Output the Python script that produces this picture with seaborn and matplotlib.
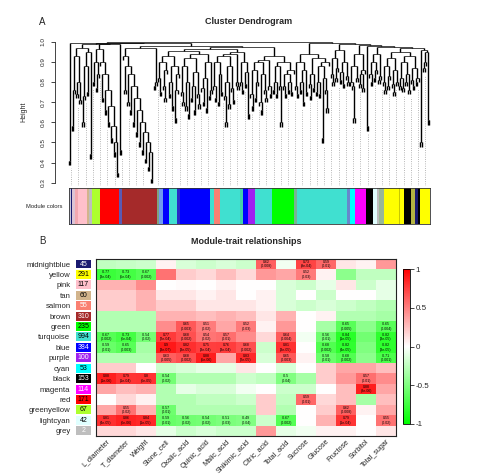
import numpy as np
import pandas as pd
import seaborn as sns
import matplotlib
matplotlib.use("Agg")
import matplotlib.pyplot as plt
from matplotlib.collections import LineCollection
from matplotlib.colors import LinearSegmentedColormap

# ---------------- panel B data ----------------
modules = ["midnightblue", "yellow", "pink", "tan", "salmon", "brown", "green",
           "turquoise", "blue", "purple", "cyan", "black", "magenta", "red",
           "greenyellow", "lightcyan", "grey"]
module_sizes = [45, 291, 117, 60, 55, 310, 235, 994, 384, 100, 53, 153, 114, 171, 67, 42, 2]
traits = ["L_diameter", "T_diameter", "Weight", "Stone_cell", "Oxalic_acid", "Quinic_acid",
          "Malic_acid", "Shikimic_acid", "Citric_acid", "Total_acid", "Sucrose", "Glucose",
          "Fructose", "Sorbitol", "Total_sugar"]

cor = [
    [-0.25, -0.22, -0.2, 0.05, -0.15, -0.2, -0.15, -0.2, 0.62, -0.05, 0.73, 0.59, 0.1, 0.05, 0.4],
    [-0.77, -0.73, -0.67, 0.55, 0.2, 0.15, 0.25, 0.15, 0.4, 0.35, 0.52, 0.05, -0.45, -0.25, -0.25],
    [0.3, 0.3, 0.45, 0.0, 0.02, 0.0, 0.05, 0.0, 0.0, -0.15, -0.2, -0.1, 0.1, -0.2, -0.1],
    [0.2, 0.2, 0.3, 0.1, 0.1, 0.05, 0.1, 0.0, 0.05, -0.15, 0.0, -0.2, 0.0, 0.0, -0.1],
    [0.2, 0.2, 0.3, 0.2, 0.2, 0.1, 0.1, 0.1, 0.05, -0.15, -0.2, -0.15, -0.2, -0.25, -0.3],
    [-0.3, -0.3, -0.3, 0.3, 0.3, 0.25, 0.3, 0.25, 0.1, 0.3, 0.0, 0.05, -0.3, -0.3, -0.35],
    [-0.3, -0.3, -0.3, 0.45, 0.65, 0.51, 0.35, 0.52, 0.05, 0.4, 0.0, -0.35, -0.65, -0.45, -0.65],
    [-0.67, -0.73, -0.54, 0.77, 0.68, 0.54, 0.57, 0.45, 0.15, 0.64, -0.05, -0.56, -0.84, -0.55, -0.82],
    [-0.59, -0.65, -0.35, 0.9, 0.82, 0.75, 0.76, 0.68, -0.2, 0.81, 0.0, -0.68, -0.82, -0.5, -0.82],
    [-0.3, -0.3, -0.3, 0.63, 0.68, 0.88, 0.35, 0.83, -0.15, 0.65, 0.05, -0.58, -0.68, -0.45, -0.71],
    [0.2, 0.2, 0.0, -0.2, -0.15, -0.1, -0.1, 0.1, 0.0, -0.15, 0.0, 0.2, 0.35, 0.35, 0.25],
    [0.88, 0.79, 0.8, -0.54, -0.3, -0.3, -0.3, -0.2, -0.25, -0.5, -0.35, 0.2, 0.4, 0.57, 0.45],
    [0.35, 0.25, 0.3, -0.3, -0.1, -0.15, -0.15, -0.05, 0.0, -0.2, -0.2, 0.0, 0.25, 0.88, 0.35],
    [0.0, 0.15, 0.05, -0.3, -0.3, -0.25, -0.25, -0.2, 0.2, -0.25, 0.59, 0.15, 0.25, -0.35, 0.25],
    [0.35, 0.55, 0.3, -0.57, -0.3, -0.3, -0.3, -0.3, 0.2, -0.3, 0.0, 0.2, 0.62, 0.05, 0.35],
    [0.81, 0.86, 0.84, -0.59, -0.56, -0.54, -0.51, -0.49, -0.2, -0.67, 0.0, 0.3, 0.79, 0.0, 0.55],
    [0.15, 0.15, 0.1, -0.1, -0.2, -0.15, -0.2, -0.2, 0.4, -0.1, -0.05, 0.05, 0.05, 0.0, 0.1],
]

pvals = [
    ["", "", "", "", "", "", "", "", "0.008", "", "9e-04", "0.01", "", "", ""],
    ["3e-04", "5e-04", "0.002", "", "", "", "", "", "", "", "0.03", "", "", "", ""],
    ["", "", "", "", "", "", "", "", "", "", "", "", "", "", ""],
    ["", "", "", "", "", "", "", "", "", "", "", "", "", "", ""],
    ["", "", "", "", "", "", "", "", "", "", "", "", "", "", ""],
    ["", "", "", "", "", "", "", "", "", "", "", "", "", "", ""],
    ["", "", "", "", "0.003", "0.02", "", "0.03", "", "", "", "", "0.005", "", "0.004"],
    ["0.002", "6e-04", "0.02", "2e-04", "0.002", "0.02", "0.01", "", "", "0.004", "", "0.01", "1e-05", "", "3e-05"],
    ["0.01", "0.003", "", "3e-07", "3e-05", "3e-04", "3e-04", "0.002", "", "3e-05", "", "0.002", "4e-05", "", "3e-05"],
    ["", "", "", "0.005", "0.002", "5e-06", "", "2e-05", "", "0.003", "", "0.01", "0.002", "", "0.001"],
    ["", "", "", "", "", "", "", "", "", "", "", "", "", "", ""],
    ["1e-06", "1e-04", "6e-05", "0.02", "", "", "", "", "", "0.04", "", "", "", "0.01", ""],
    ["", "", "", "", "", "", "", "", "", "", "", "", "", "8e-06", ""],
    ["", "", "", "", "", "", "", "", "", "", "0.01", "", "", "", ""],
    ["", "0.02", "", "0.01", "", "", "", "", "", "", "", "", "0.008", "", ""],
    ["4e-05", "6e-06", "1e-05", "0.01", "0.02", "0.02", "0.03", "0.04", "", "0.002", "", "", "1e-04", "", "0.02"],
    ["", "", "", "", "", "", "", "", "", "", "", "", "", "", ""],
]

# ---------------- panel A data ----------------
# merge height between neighbouring leaves, per branch (left to right)
br_edge = [0.41]
br_pink = [0.58, 0.76, 0.93, 0.74, 0.8, 0.71, 0.97, 0.6, 0.73, 0.88, 0.75, 0.95, 0.44]
br_greenyellow = [0.8, 0.9, 0.77, 0.84]
br_red = [0.9, 0.72, 0.84, 0.66, 0.76, 0.6, 0.68, 0.52, 0.58, 0.45, 0.5, 0.35]
br_red_tail = [0.46]
br_brown = [0.93, 0.76, 0.88, 0.7, 0.84, 0.66, 0.78, 0.6, 0.72, 0.55, 0.66, 0.5, 0.6, 0.46,
            0.55, 0.42, 0.5, 0.38, 0.45, 0.32]
br_brown_tail = [0.78, 0.8]
br_blue1 = [0.82, 0.75, 0.9, 0.78, 0.72, 0.86, 0.93, 0.74, 0.8, 0.68, 0.88, 0.62, 0.76, 0.84]
br_blue = [0.75, 0.7, 0.88, 0.68, 0.8, 0.64, 0.92, 0.72, 0.78, 0.66, 0.85, 0.74, 0.69, 0.94,
           0.77, 0.7, 0.82, 0.67, 0.9, 0.73, 0.76]
br_turq1 = [0.78, 0.72, 0.9, 0.7, 0.84, 0.75, 0.93, 0.73, 0.6, 0.8, 0.69, 0.88, 0.77, 0.71,
            0.94, 0.8, 0.78]
br_purple = [0.8, 0.76, 0.9, 0.79, 0.85, 0.64]
br_turq2 = [0.74, 0.68, 0.86, 0.72, 0.8, 0.9, 0.7, 0.66, 0.84, 0.76, 0.72, 0.91, 0.78, 0.74]
br_green1 = [0.76, 0.8, 0.74, 0.88, 0.78, 0.6]
br_green2 = [0.78, 0.74, 0.84, 0.76, 0.8, 0.75, 0.86]
br_turq3 = [0.78, 0.74, 0.9, 0.76, 0.8, 0.7, 0.86, 0.75, 0.94, 0.79, 0.73, 0.84, 0.77, 0.92,
            0.75, 0.8, 0.74, 0.88, 0.52, 0.82, 0.76, 0.67, 0.9]
br_turq4 = [0.84, 0.8, 0.92, 0.82, 0.87, 0.96, 0.81, 0.85, 0.79, 0.9, 0.83, 0.8]
br_magenta = [0.8, 0.78, 0.62, 0.88, 0.82, 0.94, 0.79, 0.84, 0.77, 0.86]
br_black_tail = [0.58]
br_lightcyan = [0.84, 0.8, 0.9, 0.82, 0.86, 0.94, 0.81, 0.83]
br_yellow = [0.8, 0.76, 0.88, 0.78, 0.83, 0.92, 0.79, 0.75, 0.86, 0.8, 0.95, 0.78, 0.82,
             0.77, 0.9, 0.8, 0.84, 0.76, 0.93, 0.81, 0.78, 0.87, 0.8, 0.82]
br_yellow_tail = [0.5]
br_yellow2 = [0.87, 0.9]
br_edge_r = [0.61]
branch_joins = [0.995, 0.99, 0.965, 0.99, 0.993, 0.97, 0.98, 0.955, 0.965, 0.95, 0.975,
                0.93, 0.9, 1.0, 0.995, 0.99, 0.985, 0.98, 0.975, 0.97, 0.96, 0.95]

# module colour strip under the tree
strip_colors = ["#C4C4D8", "#191970", "#DCC4D4", "#F2A8B0", "#FFC0CB", "#D2B48C", "#BEBEBE",
                "#ADFF2F", "#FF0000", "#5A5AB4", "#A52A2A", "#7FA37F", "#6F9BEF", "#0000FF",
                "#40E0D0", "#2A2AC8", "#0000FF", "#40E0D0", "#FA8072", "#40E0D0", "#44D2A8",
                "#0000FF", "#A020F0", "#40E0D0", "#00FF00", "#76B496", "#40E0D0", "#6688CC",
                "#00FFFF", "#FF00FF", "#000000", "#E0FFFF", "#BEBEBE", "#98B898", "#FFFF00",
                "#C8C800", "#FFFF00", "#000000", "#B4B444", "#191970", "#000000", "#FFFF00"]
strip_share = [2, 1, 3, 3, 9, 2, 3, 8, 19, 3, 35, 2, 4, 6, 8, 3, 30, 4, 6, 20, 3, 5, 7, 17,
               22, 3, 50, 3, 5, 11, 7, 4, 2, 5, 15, 1, 4, 7, 4, 3, 2, 9]

R_COL = {"midnightblue": "#191970", "yellow": "#FFFF00", "pink": "#FFC0CB", "tan": "#D2B48C",
         "salmon": "#FA8072", "brown": "#A52A2A", "green": "#00FF00", "turquoise": "#40E0D0",
         "blue": "#0000FF", "purple": "#A020F0", "cyan": "#00FFFF", "black": "#000000",
         "magenta": "#FF00FF", "red": "#FF0000", "greenyellow": "#ADFF2F",
         "lightcyan": "#E0FFFF", "grey": "#BEBEBE"}
light_text = {"midnightblue", "salmon", "brown", "blue", "purple", "black", "magenta", "grey"}

sns.set_style("white")
plt.rcParams["font.family"] = ["Liberation Sans", "DejaVu Sans"]

W, H = 480, 474
fig = plt.figure(figsize=(W / 100, H / 100), dpi=100)


def box(x0, y0, x1, y1):
    return [x0 / W, 1 - y1 / H, (x1 - x0) / W, (y1 - y0) / H]


# ---------------- dendrogram ----------------
branches = [br_edge, br_pink, br_greenyellow, br_red, br_red_tail, br_brown, br_brown_tail,
            br_blue1, br_blue, br_turq1, br_purple, br_turq2, br_green1, br_green2, br_turq3,
            br_turq4, br_magenta, br_black_tail, br_lightcyan, br_yellow, br_yellow_tail,
            br_yellow2, br_edge_r]
gaps = []
for i, part in enumerate(branches):
    gaps += part
    if i < len(branch_joins):
        gaps.append(branch_joins[i])
gaps = np.array(gaps)
n_leaf = len(gaps) + 1
ylo, yhi = 0.283, 1.006
hang = 0.03 * (yhi - ylo)
leaf_top = np.zeros(n_leaf)
vsegs, hsegs = [], []


def grow(lo, hi):
    if lo == hi:
        return float(lo), None
    k = lo + int(np.argmax(gaps[lo:hi]))
    h = gaps[k]
    kids = [grow(lo, k), grow(k + 1, hi)]
    for x, hc in kids:
        if hc is None:
            leaf_top[int(x)] = h
            hc = h - hang
        vsegs.append([(x, hc), (x, h)])
    hsegs.append([(kids[0][0], h), (kids[1][0], h)])
    return (kids[0][0] + kids[1][0]) / 2, h


grow(0, n_leaf - 1)

ax_d = fig.add_axes(box(55, 40.5, 443, 186.1))
unit = 360 / (n_leaf - 1)
ax_d.set_xlim(-14 / unit, n_leaf - 1 + 14 / unit)
ax_d.set_ylim(ylo, yhi)

# guide lines
step = n_leaf / 50
for k in range(1, 51):
    pos = (k - 0.5) * step
    a, b = int(np.floor(pos)) - 1, int(np.ceil(pos)) - 1
    a, b = max(a, 0), max(b, 0)
    top = min(leaf_top[a], leaf_top[b]) - 0.05 * (yhi - ylo)
    ax_d.plot([pos - 1, pos - 1], [ylo, top], color="#777777", lw=0.5,
              linestyle=(0, (1, 2.2)))

ax_d.add_collection(LineCollection(vsegs, colors="black", linewidths=1.0))
ax_d.add_collection(LineCollection(hsegs, colors="black", linewidths=0.5))

for s in ["top", "right", "bottom"]:
    ax_d.spines[s].set_visible(False)
ax_d.spines["left"].set_bounds(0.3, 1.0)
ax_d.spines["left"].set_linewidth(0.6)
ax_d.set_xticks([])
ax_d.set_yticks(np.arange(0.3, 1.01, 0.1))
ax_d.set_yticklabels([f"{v:.1f}" for v in np.arange(0.3, 1.01, 0.1)], rotation=90,
                     va="center", fontsize=4.6)
ax_d.tick_params(axis="y", length=2.6, width=0.6, pad=4, left=True)
ax_d.patch.set_alpha(0)

ax_s = fig.add_axes(box(68.5, 188, 429.5, 224))
edges = np.concatenate([[0], np.cumsum(strip_share)])
ax_s.barh(0, strip_share, left=edges[:-1], height=1, color=strip_colors, linewidth=0)
ax_s.set_xlim(0, edges[-1])
ax_s.set_ylim(-0.5, 0.5)
ax_s.set_xticks([])
ax_s.set_yticks([])
for s in ax_s.spines.values():
    s.set_visible(True)
    s.set_linewidth(0.6)
    s.set_color("#333333")

fig.text(42 / W, 1 - 22 / H, "A", ha="center", va="center", fontsize=7)
fig.text(249 / W, 1 - 22 / H, "Cluster Dendrogram", ha="center", va="center",
         fontsize=6.5, fontweight="bold")
fig.text(24 / W, 1 - 112 / H, "Height", ha="center", va="center", rotation=90, fontsize=5)
fig.text(63 / W, 1 - 206 / H, "Module colors", ha="right", va="center", fontsize=4.2)

# ---------------- module-trait heatmap ----------------
gwr = LinearSegmentedColormap.from_list("gwr", ["#00FF00", "#FFFFFF", "#FF0000"])
df = pd.DataFrame(cor, index=modules, columns=traits)
annot = np.array([[f"{r:g}\n({p})" if p else "" for r, p in zip(rr, pp)]
                  for rr, pp in zip(cor, pvals)])

ax_h = fig.add_axes(box(96, 258.8, 396, 436))
ax_c = fig.add_axes(box(403, 269, 410, 424))
sns.heatmap(df, ax=ax_h, cmap=gwr, vmin=-1, vmax=1, annot=annot, fmt="",
            annot_kws={"size": 2.5, "color": "black", "linespacing": 1.15},
            cbar_ax=ax_c, xticklabels=True, yticklabels=False)
for s in ax_h.spines.values():
    s.set_visible(True)
    s.set_linewidth(0.8)
    s.set_color("#222222")
ax_h.set_xticklabels(traits, rotation=45, ha="right", va="top", rotation_mode="anchor",
                     fontsize=5.2)
ax_h.tick_params(axis="x", length=0, pad=1.5)
ax_h.set_xlabel("")
ax_h.set_ylabel("")

cbar = ax_h.collections[0].colorbar
cbar.outline.set_visible(True)
cbar.outline.set_linewidth(0.6)
cbar.outline.set_edgecolor("black")
cbar.set_ticks([-1, -0.5, 0, 0.5, 1])
cbar.set_ticklabels(["-1", "-0.5", "0", "0.5", "1"])
ax_c.tick_params(labelsize=5.8, length=3, width=0.6, pad=1, right=True)

ax_m = fig.add_axes(box(76, 258.8, 90.7, 436))
ax_m.barh(np.arange(len(modules)) + 0.5, 1, height=0.86,
          color=[R_COL[m] for m in modules], linewidth=0)
ax_m.set_xlim(0, 1)
ax_m.set_ylim(len(modules), 0)
for i, (m, n) in enumerate(zip(modules, module_sizes)):
    ax_m.text(0.5, i + 0.5, str(n), ha="center", va="center", fontsize=5,
              color="white" if m in light_text else "black")
ax_m.set_xticks([])
ax_m.set_yticks(np.arange(len(modules)) + 0.5)
ax_m.set_yticklabels(modules, fontsize=5.6)
ax_m.tick_params(axis="y", length=0, pad=4)
for s in ax_m.spines.values():
    s.set_visible(False)
ax_m.patch.set_alpha(0)

fig.text(42 / W, 1 - 241 / H, "B", ha="center", va="center", fontsize=7)
fig.text(246 / W, 1 - 241 / H, "Module-trait relationships", ha="center", va="center",
         fontsize=6.5, fontweight="bold")

fig.savefig("out.png", dpi=100)
